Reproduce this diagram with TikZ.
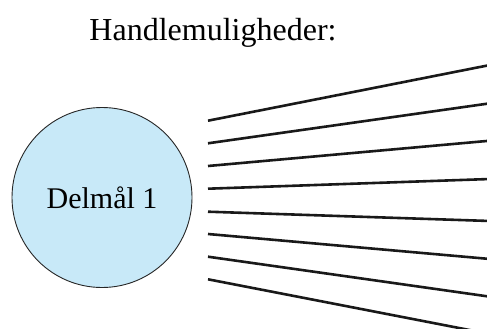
\documentclass[tikz,border=0pt]{standalone}
\usepackage{fontspec}
\setmainfont{Liberation Serif}
\definecolor{goalblue}{HTML}{C8E9F8}
\begin{document}
\begin{tikzpicture}[x=1pt,y=-1pt,
  goal/.style={circle,draw=black!85,line width=0.9pt,fill=goalblue,minimum size=180pt,inner sep=0pt,font=\fontsize{30}{33}\selectfont},
  title/.style={font=\fontsize{32}{35}\selectfont,anchor=base},
  option/.style={line width=2.6pt,draw=black!90}]
\useasboundingbox (0,0) rectangle (487,329);
\clip (0,0) rectangle (487,329);
\node[title] (t) at (213,40.7) {Handlemuligheder:};
\node[goal] (g) at (102,197.5) {Delmål 1};
\foreach \i/\ly/\ry in {1/120.7/65,2/143.3/103.3,3/166/140.7,4/188.7/179,5/211.7/221,6/234/259,7/256.7/296.7,8/279.3/334}{
  \coordinate (l\i) at (208,\ly);
  \coordinate (r\i) at (490,\ry);
  \draw[option] (l\i) -- (r\i);
}
\end{tikzpicture}
\end{document}
